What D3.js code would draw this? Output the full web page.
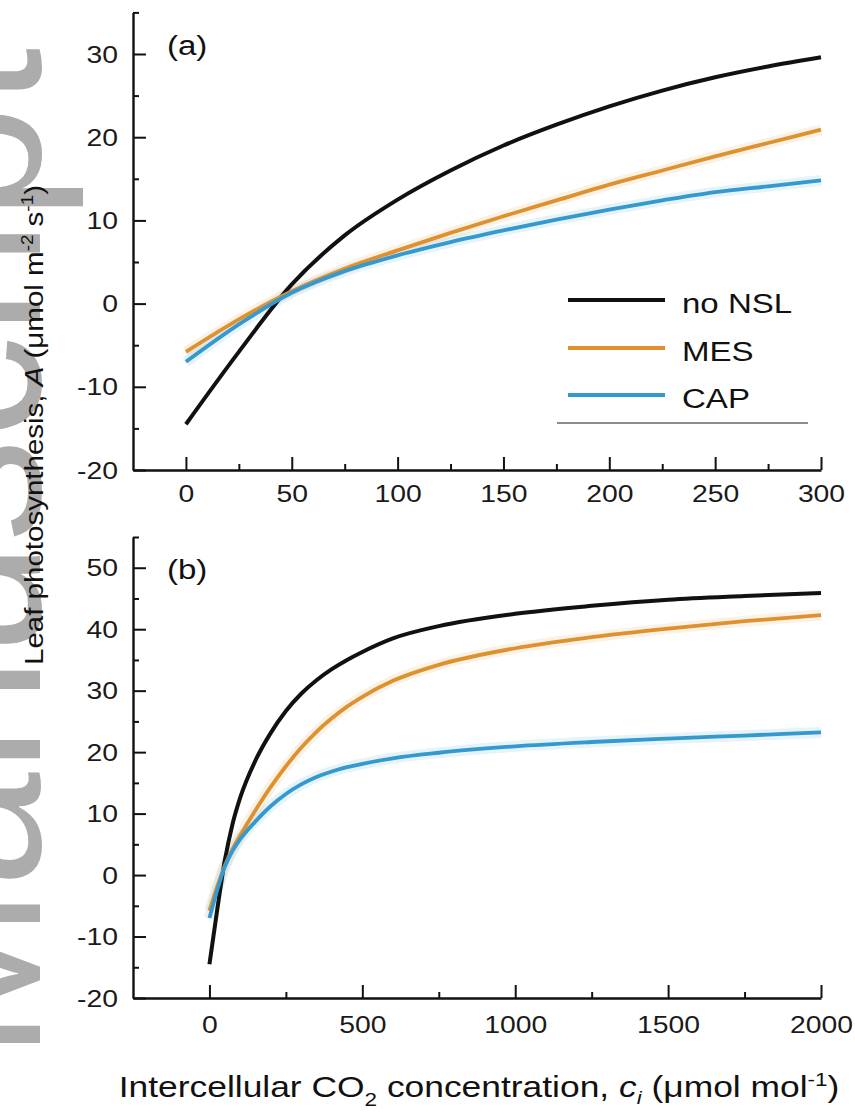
<!DOCTYPE html>
<html><head><meta charset="utf-8">
<script src="https://cdn.jsdelivr.net/npm/d3@7"></script>
<style>
html,body{margin:0;padding:0;background:#fff;}
svg text{font-family:"Liberation Sans",Arial,sans-serif;fill:#111;}
</style></head>
<body><svg id="chart" width="855" height="1114"></svg>
<script>
// ---------- data ----------
const seriesNames = ["no NSL", "MES", "CAP"];
const seriesColors = ["#111111", "#df912f", "#3399cf"];

// panel (a): ci 0-300
const ciA = [0, 25, 50, 75, 100, 125, 150, 175, 200, 225, 250, 275, 300];
const noNSL_A = [-14.5, -5.8, 2.3, 8.2, 12.5, 16.0, 19.0, 21.5, 23.7, 25.6, 27.2, 28.5, 29.6];
const MES_A = [-5.8, -1.9, 1.5, 4.2, 6.4, 8.5, 10.5, 12.4, 14.3, 16.0, 17.7, 19.3, 20.9];
const CAP_A = [-7.0, -2.5, 1.3, 3.9, 5.8, 7.4, 8.8, 10.1, 11.3, 12.4, 13.4, 14.1, 14.8];

// panel (b): ci 0-2000
const ciB = [0, 25, 50, 75, 100, 150, 200, 250, 300, 350, 400, 450, 500, 600, 750, 1000, 1250, 1500, 1750, 2000];
const noNSL_B = [-14.5, -5.8, 2.3, 8.2, 12.5, 18.6, 23.1, 26.7, 29.5, 31.7, 33.5, 35.0, 36.3, 38.5, 40.5, 42.5, 43.8, 44.8, 45.4, 45.9];
const MES_B = [-5.8, -1.9, 1.5, 4.2, 6.4, 10.5, 14.3, 17.7, 20.7, 23.3, 25.5, 27.4, 29.0, 31.6, 34.2, 36.9, 38.7, 40.1, 41.3, 42.3];
const CAP_B = [-7.0, -2.5, 1.3, 3.9, 5.8, 8.7, 11.2, 13.2, 14.75, 15.95, 16.85, 17.55, 18.1, 19.0, 19.9, 20.95, 21.65, 22.2, 22.7, 23.2];

// axes
const xDomainA = [-25, 300], yDomainA = [-20, 35];
const xTicksA = [0, 50, 100, 150, 200, 250, 300];
const xMinorA = [25, 75, 125, 175, 225, 275];
const yTicksA = [-20, -10, 0, 10, 20, 30];
const yMinorA = [-15, -5, 5, 15, 25, 35];

const xDomainB = [-250, 2000], yDomainB = [-20, 55];
const xTicksB = [0, 500, 1000, 1500, 2000];
const xMinorB = [250, 750, 1250, 1750];
const yTicksB = [-20, -10, 0, 10, 20, 30, 40, 50];
const yMinorB = [-15, -5, 5, 15, 25, 35, 45, 55];

// ---------- drawing ----------
const svg = d3.select("#chart");
const SX = 1.18; // horizontal text stretch of the original figure

// watermark (cut by the left edge, as in the original)
svg.append("text")
  .attr("transform", "translate(40,1060) rotate(-90)")
  .attr("font-size", 207)
  .style("fill", "#acacac")
  .text("Manuscript");

function stretchedText(g, x, y, anchor, size, str) {
  return g.append("text")
    .attr("transform", `translate(${x},${y}) scale(${SX},1)`)
    .attr("text-anchor", anchor)
    .attr("font-size", size)
    .text(str);
}

function panel(cfg) {
  const x = d3.scaleLinear().domain(cfg.xDomain).range([133, 821]);
  const y = d3.scaleLinear().domain(cfg.yDomain).range([cfg.yBottom, cfg.yTop]);
  const g = svg.append("g");

  // minor ticks
  g.append("g").attr("transform", `translate(133,0)`)
    .call(d3.axisLeft(y).tickValues(cfg.yMinor).tickSizeInner(-6).tickSizeOuter(0).tickFormat(""))
    .call(s => s.select(".domain").remove())
    .call(s => s.selectAll("line").attr("stroke", "#111").attr("stroke-width", 2));
  g.append("g").attr("transform", `translate(0,${cfg.yBottom})`)
    .call(d3.axisBottom(x).tickValues(cfg.xMinor).tickSizeInner(-6).tickSizeOuter(0).tickFormat(""))
    .call(s => s.select(".domain").remove())
    .call(s => s.selectAll("line").attr("stroke", "#111").attr("stroke-width", 2));

  // major y
  const ya = g.append("g").attr("transform", `translate(133,0)`)
    .call(d3.axisLeft(y).tickValues(cfg.yTicks).tickSizeInner(-13).tickSizeOuter(0).tickPadding(15)
      .tickFormat(d => String(d)));
  ya.select(".domain").attr("stroke", "#111").attr("stroke-width", 2.4);
  ya.selectAll("line").attr("stroke", "#111").attr("stroke-width", 2);
  ya.selectAll("text").attr("x", null).attr("dy", null)
    .attr("transform", `translate(-15,8) scale(${SX},1)`)
    .attr("font-size", 24).attr("font-family", null).style("fill", "#1a1a1a");

  // major x
  const xa = g.append("g").attr("transform", `translate(0,${cfg.yBottom})`)
    .call(d3.axisBottom(x).tickValues(cfg.xTicks).tickSizeInner(-13).tickSizeOuter(0).tickPadding(0)
      .tickFormat(d => String(d)));
  xa.select(".domain").attr("stroke", "#111").attr("stroke-width", 2.4);
  xa.selectAll("line").attr("stroke", "#111").attr("stroke-width", 2);
  xa.selectAll("text").attr("y", null).attr("dy", null)
    .attr("transform", `translate(0,${cfg.xLabelDy}) scale(${SX},1)`)
    .attr("font-size", 24).attr("font-family", null).style("fill", "#1a1a1a");

  // curves (with a faint halo like the original's soft rendering)
  const line = d3.line().curve(d3.curveMonotoneX)
    .x((d, i) => x(cfg.ci[i])).y(d => y(d));
  const widths = [4, 3.8, 3.8];
  cfg.series.forEach((vals, k) => {
    if (k > 0) {
      g.append("path").datum(vals)
        .attr("fill", "none").attr("stroke", seriesColors[k])
        .attr("stroke-opacity", 0.12).attr("stroke-width", 11)
        .attr("d", line);
    }
  });
  cfg.series.forEach((vals, k) => {
    g.append("path").datum(vals)
      .attr("fill", "none").attr("stroke", seriesColors[k])
      .attr("stroke-width", widths[k]).attr("stroke-linecap", "butt")
      .attr("d", line);
  });

  // panel label
  stretchedText(g, 167, cfg.labelY, "start", 28, cfg.label);
  return {x, y, g};
}

panel({xDomain: xDomainA, yDomain: yDomainA, yBottom: 470, yTop: 12.4,
  xTicks: xTicksA, xMinor: xMinorA, yTicks: yTicksA, yMinor: yMinorA,
  ci: ciA, series: [noNSL_A, MES_A, CAP_A], label: "(a)", labelY: 55, xLabelDy: 32});

panel({xDomain: xDomainB, yDomain: yDomainB, yBottom: 998, yTop: 537,
  xTicks: xTicksB, xMinor: xMinorB, yTicks: yTicksB, yMinor: yMinorB,
  ci: ciB, series: [noNSL_B, MES_B, CAP_B], label: "(b)", labelY: 579, xLabelDy: 35});

// legend (panel a)
const leg = svg.append("g");
const legY = [300, 348, 395];
seriesNames.forEach((n, k) => {
  leg.append("line").attr("x1", 568).attr("x2", 665).attr("y1", legY[k]).attr("y2", legY[k])
    .attr("stroke", seriesColors[k]).attr("stroke-width", k === 0 ? 4 : 3.8);
  stretchedText(leg, 682, legY[k] + 13, "start", 28, n);
});
leg.append("line").attr("x1", 557).attr("x2", 808).attr("y1", 423).attr("y2", 423)
  .attr("stroke", "#666").attr("stroke-width", 1.5);

// y axis title
const yt = svg.append("text")
  .attr("transform", `translate(43,425) rotate(-90) scale(${SX},1)`)
  .attr("text-anchor", "middle").attr("font-size", 25);
yt.append("tspan").text("Leaf photosynthesis, ");
yt.append("tspan").attr("font-style", "italic").text("A");
yt.append("tspan").text(" (μmol m");
yt.append("tspan").attr("font-size", 16).attr("dy", -10).text("-2");
yt.append("tspan").attr("dy", 10).text(" s");
yt.append("tspan").attr("font-size", 16).attr("dy", -10).text("-1");
yt.append("tspan").attr("dy", 10).text(")");

// x axis title
const xt = svg.append("text")
  .attr("transform", `translate(479,1097) scale(${SX},1)`)
  .attr("text-anchor", "middle").attr("font-size", 30);
xt.append("tspan").text("Intercellular CO");
xt.append("tspan").attr("font-size", 19).attr("dy", 9).text("2");
xt.append("tspan").attr("dy", -9).text(" concentration, ");
xt.append("tspan").attr("font-style", "italic").text("c");
xt.append("tspan").attr("font-style", "italic").attr("font-size", 19).attr("dy", 7).text("i");
xt.append("tspan").attr("dy", -7).text(" (μmol mol");
xt.append("tspan").attr("font-size", 19).attr("dy", -11).text("-1");
xt.append("tspan").attr("dy", 11).text(")");
</script></body></html>
